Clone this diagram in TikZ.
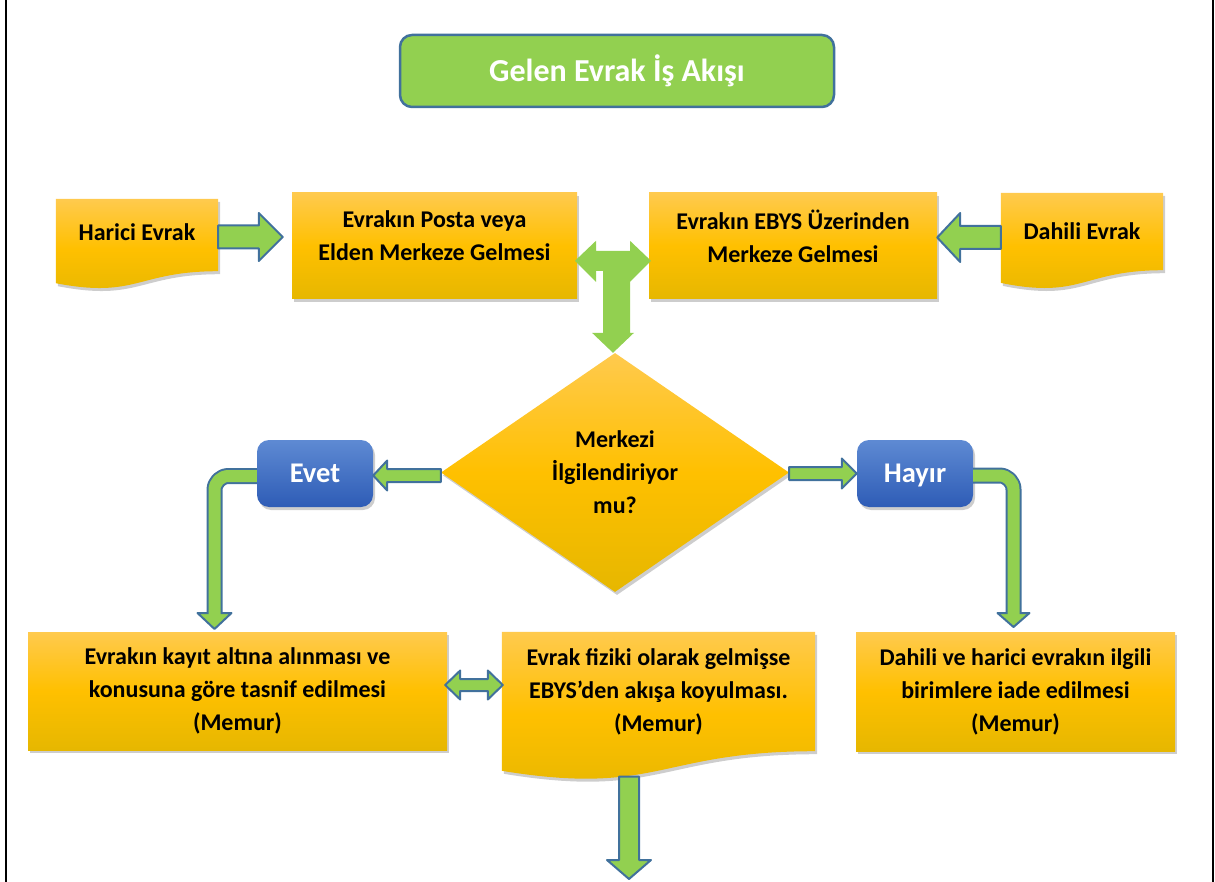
\documentclass[tikz,border=0pt]{standalone}
\usepackage{fontspec}
\setmainfont{Carlito}
\usetikzlibrary{calc,shapes.geometric,shadows,backgrounds}

\definecolor{ytop}{HTML}{FFCA4E}
\definecolor{ymid}{HTML}{FFC000}
\definecolor{ybot}{HTML}{E6B700}
\definecolor{agreen}{HTML}{92D050}
\definecolor{aborder}{HTML}{41719C}
\definecolor{btop}{HTML}{5E8AD3}
\definecolor{bbot}{HTML}{2E5CB6}

\newcommand{\boxfont}{\fontsize{24}{33}\selectfont\bfseries}
\newcommand{\titlefont}{\fontsize{32}{38}\selectfont\bfseries}
\newcommand{\tagfont}{\fontsize{28.5}{34}\selectfont\bfseries}

% straight block arrow: from, to, shaft half width, head half width, head length
\newcommand{\blockarrow}[5]{%
  \coordinate (bah) at ($(#2)!#5!(#1)$);
  \draw[barrow] ($(#1)!#3!90:(#2)$) -- ($(bah)!#3!90:(#2)$) -- ($(bah)!#4!90:(#2)$) -- (#2)
    -- ($(bah)!#4!-90:(#2)$) -- ($(bah)!#3!-90:(#2)$) -- ($(#1)!#3!-90:(#2)$) -- cycle;}
% double headed block arrow
\newcommand{\dblarrow}[5]{%
  \coordinate (bha) at ($(#1)!#5!(#2)$);
  \coordinate (bhb) at ($(#2)!#5!(#1)$);
  \draw[barrow] (#1) -- ($(bha)!#4!90:(#2)$) -- ($(bha)!#3!90:(#2)$) -- ($(bhb)!#3!90:(#2)$)
    -- ($(bhb)!#4!90:(#2)$) -- (#2) -- ($(bhb)!#4!-90:(#2)$) -- ($(bhb)!#3!-90:(#2)$)
    -- ($(bha)!#3!-90:(#2)$) -- ($(bha)!#4!-90:(#2)$) -- cycle;}
% wavy document back: node name, drop of the left corner
\newcommand{\docback}[2]{%
  \begin{pgfonlayer}{background}
    \shade[yshade, boxshadow] (#1.north west) -- (#1.north east) -- (#1.south east)
      .. controls (#1.south) and ($(#1.south)+(0,{#2*2.31})$) .. ($(#1.south west)+(0,#2)$) -- cycle;
  \end{pgfonlayer}}

\begin{document}
\begin{tikzpicture}[x=1pt, y=-1pt, line join=round,
    yshade/.style={top color=ytop, bottom color=ybot, middle color=ymid},
    boxshadow/.style={drop shadow={shadow xshift=2pt, shadow yshift=-3pt, opacity=.28, fill=black!70}},
    ybox/.style={rectangle, inner sep=0pt, align=center, font=\boxfont, yshade, boxshadow},
    docnode/.style={rectangle, inner sep=0pt, align=center, font=\boxfont},
    tagbox/.style={rectangle, rounded corners=12pt, inner sep=0pt, minimum width=116pt, minimum height=67pt,
      text height=18pt, text depth=0pt, top color=btop, bottom color=bbot, text=white, font=\tagfont, boxshadow},
    barrow/.style={fill=agreen, draw=aborder, line width=2pt},
    bentout/.style={draw=aborder, line width=16pt, rounded corners=14pt},
    bentin/.style={draw=agreen, line width=12pt, rounded corners=14pt}]
  \useasboundingbox (0,0) rectangle (1215,882);
  \draw[line width=2pt] (6,0) -- (6,882) (1213,0) -- (1213,882);

  % title
  \node[rectangle, rounded corners=12pt, minimum width=434pt, minimum height=72pt, fill=agreen,
    draw=aborder, line width=2.5pt, text=white, font=\titlefont] (title) at (617,71) {Gelen Evrak İş Akışı};

  % first row
  \node[docnode, minimum width=162pt, minimum height=72pt, text depth=5pt] (harici) at (137,235) {Harici Evrak};
  \docback{harici}{12}
  \node[ybox, minimum width=285pt, minimum height=106pt, text depth=20pt] (posta) at (434.5,246) {Evrakın Posta veya\\Elden Merkeze Gelmesi};
  \node[ybox, minimum width=288pt, minimum height=106pt, text depth=20pt] (ebys) at (793,246) {Evrakın EBYS Üzerinden\\Merkeze Gelmesi};
  \node[docnode, minimum width=162pt, minimum height=77pt] (dahili) at (1082,231.5) {Dahili Evrak};
  \docback{dahili}{12.7}

  % decision
  \node[diamond, aspect=1.46, inner sep=0pt, minimum width=348pt, minimum height=239pt, align=center,
    font=\boxfont, yshade, boxshadow] (dia) at (615,472.5) {Merkezi\\İlgilendiriyor\\mu?};
  \node[tagbox] (evet) at (315,473.5) {Evet};
  \node[tagbox] (hayir) at (915,473.5) {Hayır};

  % last row
  \node[ybox, minimum width=419pt, minimum height=118pt] (kayit) at (237.5,691) {Evrakın kayıt altına alınması ve\\konusuna göre tasnif edilmesi\\(Memur)};
  \node[docnode, minimum width=313pt, minimum height=119pt] (fiziki) at (658.5,691.5) {Evrak fiziki olarak gelmişse\\EBYS’den akışa koyulması.\\(Memur)};
  \docback{fiziki}{19.6}
  \node[ybox, minimum width=319pt, minimum height=119pt] (iade) at (1015.5,691.5) {Dahili ve harici evrakın ilgili\\birimlere iade edilmesi\\(Memur)};

  % arrows of the first row
  \coordinate (a1s) at ($(harici.east)+(0,2)$);
  \coordinate (a1e) at ($(a1s -| posta.west)+(-9,0)$);
  \blockarrow{a1s}{a1e}{11.5pt}{24pt}{24pt}
  \coordinate (a2s) at ($(dahili.west)+(0,6)$);
  \coordinate (a2e) at (a2s -| ebys.east);
  \blockarrow{a2s}{a2e}{11.5pt}{24.5pt}{23pt}
  \begin{scope}[shift={($(dia.north)+(-2,0)$)}]
    \fill[agreen] (-38,-92) -- (-17,-112) -- (-17,-102) -- (17,-102) -- (17,-112) -- (38,-92)
      -- (17,-71) -- (17,-20) -- (21,-20) -- (0,0) -- (-21,-20) -- (-10,-20) -- (-10,-82)
      -- (-17,-82) -- (-17,-71) -- cycle;
  \end{scope}

  % arrows of the decision
  \coordinate (a4s) at ($(dia.west)+(0,3)$);
  \coordinate (a4e) at (a4s -| evet.east);
  \blockarrow{a4s}{a4e}{6.5pt}{15pt}{14pt}
  \coordinate (a5s) at ($(dia.east)+(0,1)$);
  \coordinate (a5e) at (a5s -| hayir.west);
  \blockarrow{a5s}{a5e}{6.5pt}{15pt}{15pt}

  \coordinate (evhead) at (214.5,613);
  \draw[bentout] ($(evet.west)+(0,2.5)$) -| (evhead);
  \draw[barrow] ($(evhead)+(-17,0)$) -- ($(evhead)+(0,16)$) -- ($(evhead)+(17,0)$) -- cycle;
  \draw[bentin] ($(evet.west)+(0,2.5)$) -| ($(evhead)+(0,2.5)$);
  \coordinate (hyhead) at (1013.5,613);
  \draw[bentout] ($(hayir.east)+(0,2)$) -| (hyhead);
  \draw[barrow] ($(hyhead)+(-16,0)$) -- ($(hyhead)+(0,14)$) -- ($(hyhead)+(16,0)$) -- cycle;
  \draw[bentin] ($(hayir.east)+(0,2)$) -| ($(hyhead)+(0,2.5)$);

  % arrows of the last row
  \coordinate (a6s) at ($(kayit.east)+(-2,-6)$);
  \coordinate (a6e) at ($(a6s -| fiziki.west)+(1,0)$);
  \dblarrow{a6s}{a6e}{6pt}{14.5pt}{15pt}
  \coordinate (a7s) at ($(fiziki.south)+(-29.5,25.5)$);
  \coordinate (fizend) at (629,879);
  \blockarrow{a7s}{fizend}{10pt}{22pt}{19pt}
\end{tikzpicture}
\end{document}
